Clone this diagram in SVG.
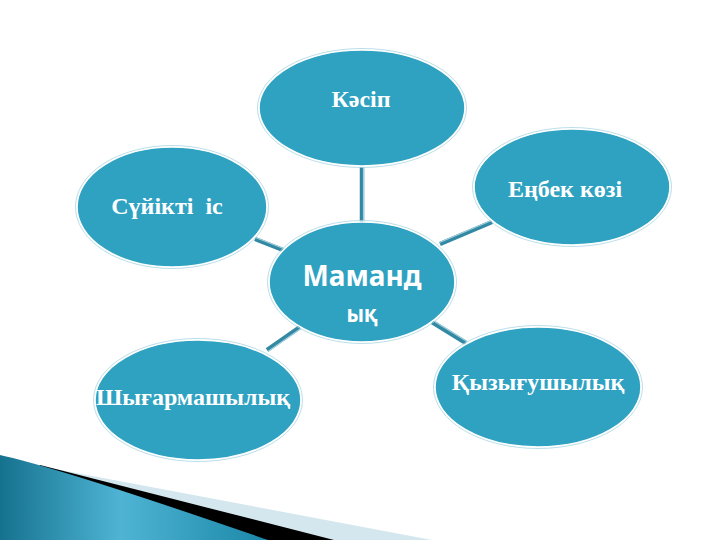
<svg xmlns="http://www.w3.org/2000/svg" width="720" height="540" viewBox="0 0 720 540">
<style>
.node ellipse{fill:#2fa2c1;stroke:#ffffff;stroke-width:1.6}
.node .rim{fill:none;stroke:#a9d6e3;stroke-width:0.8}
.lbl{font-family:"Liberation Serif","DejaVu Serif",serif;font-weight:bold;font-size:24px;fill:#ffffff;text-anchor:middle;white-space:pre}
.ctr{font-family:"Noto Sans","Open Sans","DejaVu Sans",sans-serif;font-weight:bold;fill:#ffffff;text-anchor:middle}
.edge{stroke:#3389a3;stroke-width:4.5;stroke-linecap:butt}
.edge2{stroke:#9fd0de;stroke-width:1.2}
</style>
<defs>
<linearGradient id="swoosh" x1="0" y1="0" x2="1" y2="0">
<stop offset="0" stop-color="#15728f"/>
<stop offset="0.45" stop-color="#4fb4d4"/>
<stop offset="1" stop-color="#1b87a8"/>
</linearGradient>
</defs>
<rect width="720" height="540" fill="#ffffff"/>
<g id="decoration">
<path d="M50,468 L432,540 L0,540 Z" fill="#d5e7ee"/>
<path d="M40,465 L334,540 L0,540 Z" fill="#000000"/>
<path d="M0,455 Q60,468 268,540 L0,540 Z" fill="url(#swoosh)"/>
</g>
<g id="connectors">
<line class="edge" x1="362" y1="167" x2="362" y2="222"/>
<line class="edge2" x1="363.5" y1="167" x2="363.5" y2="222"/>
<line class="edge" x1="255" y1="239" x2="283" y2="250"/>
<line class="edge2" x1="255.5" y1="237.5" x2="283.5" y2="248.5"/>
<line class="edge" x1="440" y1="244" x2="492" y2="222"/>
<line class="edge2" x1="439.5" y1="242.5" x2="491.5" y2="220.5"/>
<line class="edge" x1="432" y1="322" x2="466" y2="343"/>
<line class="edge2" x1="433" y1="320.5" x2="467" y2="341.5"/>
<line class="edge" x1="300" y1="327" x2="267" y2="350"/>
<line class="edge2" x1="301" y1="328.5" x2="268" y2="351.5"/>
</g>
<g id="node-kasip" class="node">
<ellipse cx="362" cy="108" rx="103" ry="58"/>
<ellipse class="rim" cx="362" cy="108" rx="104.5" ry="59.5"/>
<text class="lbl" x="361" y="107">Кәсіп</text>
</g>
<g id="node-enbek" class="node">
<ellipse cx="572" cy="187" rx="98" ry="58"/>
<ellipse class="rim" cx="572" cy="187" rx="99.5" ry="59.5"/>
<text class="lbl" x="565" y="197">Еңбек көзі</text>
</g>
<g id="node-suikti" class="node">
<ellipse cx="172" cy="207" rx="95" ry="60"/>
<ellipse class="rim" cx="172" cy="207" rx="96.5" ry="61.5"/>
<text class="lbl" x="167" y="214">Сүйікті  іс</text>
</g>
<g id="node-center" class="node">
<ellipse cx="362" cy="282" rx="93" ry="60"/>
<ellipse class="rim" cx="362" cy="282" rx="94.5" ry="61.5"/>
<text class="ctr" x="362" y="286" font-size="29" textLength="119" lengthAdjust="spacingAndGlyphs">Маманд</text>
<text class="ctr" x="362" y="322" font-size="24" textLength="31" lengthAdjust="spacingAndGlyphs">ық</text>
</g>
<g id="node-kyzygu" class="node">
<ellipse cx="538" cy="387" rx="103" ry="60"/>
<ellipse class="rim" cx="538" cy="387" rx="104.5" ry="61.5"/>
<text class="lbl" x="538" y="390">Қызығушылық</text>
</g>
<g id="node-shygar" class="node">
<ellipse cx="198" cy="400" rx="103" ry="60"/>
<ellipse class="rim" cx="198" cy="400" rx="104.5" ry="61.5"/>
<text class="lbl" x="193" y="405">Шығармашылық</text>
</g>
</svg>
